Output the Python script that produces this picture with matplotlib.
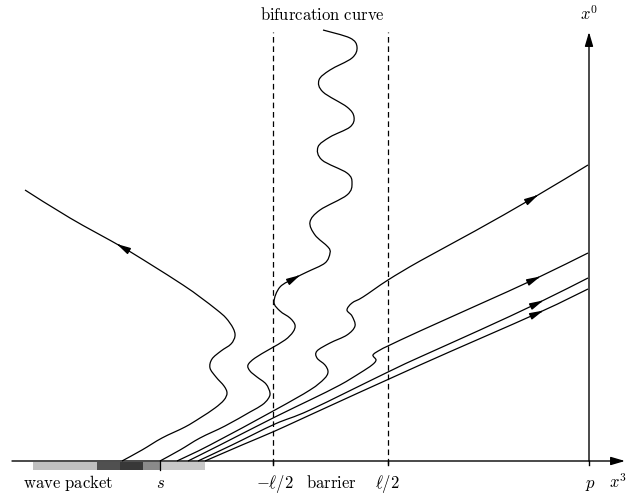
import numpy as np
import matplotlib
matplotlib.use("Agg")
import matplotlib.pyplot as plt
from matplotlib.path import Path
from matplotlib.patches import PathPatch

plt.rcParams['mathtext.fontset'] = 'cm'

# trajectories in the (x3, x0) plane
refl_x3 = [122, 142, 162, 185, 200, 215, 224, 227, 224, 216, 210, 212, 221, 231,
           235, 233, 226, 217, 200, 183, 150, 122, 70, 25]
refl_x0 = [0, 11, 23, 34, 43, 53, 61, 68, 75, 84, 93, 102, 110, 117,
           125, 133, 143, 151, 164, 176, 197, 214, 243, 271]

bif_x3 = [160, 180, 200, 225, 250, 262, 268, 270, 266, 257, 250, 248, 255, 270,
          285, 293, 295, 290, 280, 274, 280, 295, 307, 325, 330, 328, 315, 310,
          320, 347, 352, 347, 322, 318, 330, 350, 354, 347, 323, 319, 330, 352,
          357, 350, 323]
bif_x0 = [0, 11, 23, 35, 49, 56, 62, 68, 77, 84, 90, 96, 103, 112,
          121, 129, 136, 143, 150, 159, 174, 183, 189, 198, 208, 214, 226, 239,
          251, 266, 278, 288, 301, 314, 324, 334, 344, 354, 369, 381, 391, 403,
          414, 423, 431]

tr1_x3 = [177, 210, 275, 310, 324, 328, 325, 317, 317, 330, 347, 355, 352, 347,
          352, 363, 388, 420, 475, 533, 588]
tr1_x0 = [0, 16, 51, 71, 82, 89, 96, 103, 110, 118, 126, 135, 145, 151,
          158, 164, 181, 200, 230, 263, 296]

tr2_x3 = [188, 220, 275, 310, 340, 360, 372, 376, 373, 380, 390, 420, 480, 535, 588]
tr2_x0 = [0, 16, 44, 61, 76, 88, 96, 101, 106, 111, 116, 130, 157, 182, 208]

tr3_x3 = [198, 232, 275, 310, 388, 420, 480, 538, 588]
tr3_x0 = [0, 16, 37, 51, 89, 104, 131, 158, 183]

tr4_x3 = [205, 242, 275, 310, 420, 538, 588]
tr4_x0 = [0, 16, 30, 46, 96, 148, 172]

# where along each trajectory the arrowhead sits (point index)
arrow_idx = [21, 21, 19, 13, 7, 5]

# wave packet shading below the axis
packet_edges = [33, 97, 120, 143, 160, 205]
packet_grays = ['#c0c0c0', '#505050', '#383838', '#8a8a8a', '#c8c8c8']

barrier_x3 = [273, 388]
p_x3 = 589
s_x3 = 160

bottom_labels = [r'$\mathrm{wave\ packet}$', r'$s$', r'$-\ell/2$',
                 r'$\mathrm{barrier}$', r'$\ell/2$', r'$p$', r'$x^3$']
bottom_label_x3 = [68, 160, 275, 331, 387, 590, 618]


def curve_path(xs, ys):
    p = np.column_stack([xs, ys]).astype(float)
    q = np.vstack([p[0], p, p[-1]])
    verts = [p[0]]
    codes = [Path.MOVETO]
    for i in range(len(p) - 1):
        c1 = q[i + 1] + (q[i + 2] - q[i]) / 6
        c2 = q[i + 2] - (q[i + 3] - q[i + 1]) / 6
        verts += [c1, c2, q[i + 2]]
        codes += [Path.CURVE4] * 3
    return Path(verts, codes)


fig = plt.figure(figsize=(6.37, 4.98), dpi=100)
ax = fig.add_axes([0, 0, 1, 1])
ax.set_xlim(0, 637)
ax.set_ylim(-37, 461)
ax.axis('off')

lw = 0.9
head = dict(color='k', lw=1.0, shrinkA=0, shrinkB=0, mutation_scale=10)

# wave packet
ax.bar(packet_edges[:-1], -8.5, width=np.diff(packet_edges), bottom=-0.5,
       align='edge', color=packet_grays, lw=0, zorder=1)

# axes
ax.annotate('', xy=(625, 0), xytext=(12, 0),
            arrowprops=dict(arrowstyle='-|>,head_length=0.85,head_width=0.25', **head))
ax.annotate('', xy=(p_x3, 429), xytext=(p_x3, 0),
            arrowprops=dict(arrowstyle='-|>,head_length=0.85,head_width=0.25', **head))
for x in barrier_x3 + [p_x3]:
    ax.plot([x, x], [0, -3.5], color='k', lw=1.0)
ax.plot([s_x3, s_x3], [0, -9], color='k', lw=0.9)

# barrier edges
for x in barrier_x3:
    ax.plot([x, x], [-3, 429], color='k', lw=0.9, ls=(0, (4.5, 3)))

trajs = [(refl_x3, refl_x0), (bif_x3, bif_x0), (tr1_x3, tr1_x0),
         (tr2_x3, tr2_x0), (tr3_x3, tr3_x0), (tr4_x3, tr4_x0)]
for (xs, ys), k in zip(trajs, arrow_idx):
    ax.add_patch(PathPatch(curve_path(xs, ys), fill=False, color='k', lw=lw))
    d = np.array([xs[k + 1] - xs[k - 1], ys[k + 1] - ys[k - 1]], float)
    d /= np.hypot(*d)
    tip = np.array([xs[k], ys[k]]) + 6 * d
    ax.annotate('', xy=tip, xytext=tip - 3 * d,
                arrowprops=dict(arrowstyle='-|>,head_length=0.8,head_width=0.2',
                                **head))

for lab, x in zip(bottom_labels, bottom_label_x3):
    ax.text(x, -27, lab, ha='center', va='baseline', fontsize=12)
ax.text(322, 441, r'$\mathrm{bifurcation\ curve}$', ha='center', va='baseline',
        fontsize=12)
ax.text(589, 441, r'$x^0$', ha='center', va='baseline', fontsize=12)

fig.savefig('out.png', dpi=100)
